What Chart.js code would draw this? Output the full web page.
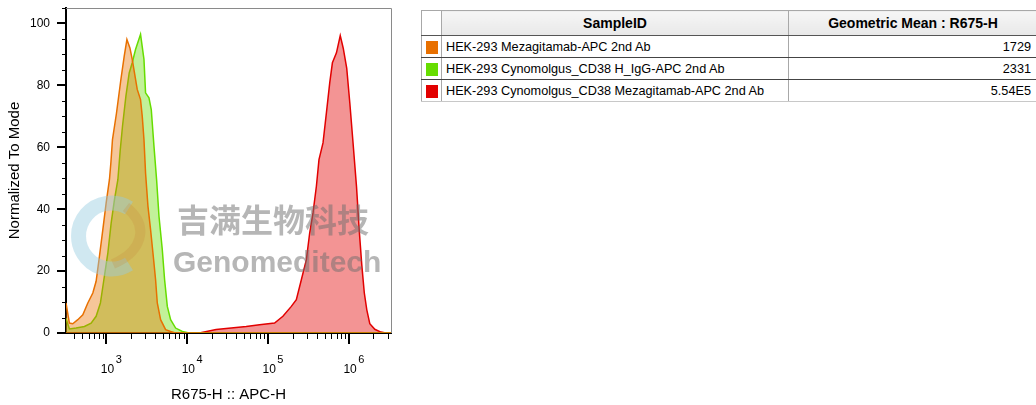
<!DOCTYPE html>
<html><head><meta charset="utf-8">
<script src="https://cdn.jsdelivr.net/npm/chart.js@4.4.0/dist/chart.umd.min.js"></script>
<style>
html,body{margin:0;padding:0;background:#fff;width:1036px;height:405px;overflow:hidden;font-family:"Liberation Sans",Arial,sans-serif;}
#wrap{position:relative;width:1036px;height:405px;}
#chartBox{position:absolute;left:0;top:0;width:400px;height:405px;}
#legend{position:absolute;left:421px;top:10px;border-collapse:collapse;width:616px;table-layout:fixed;font-size:12.7px;color:#000;}
#legend th,#legend td{padding:0;border:1px solid #a8a8a8;white-space:nowrap;overflow:hidden;}
#legend thead th{height:24px;font-weight:bold;font-size:14px;text-align:center;background:linear-gradient(#f6f6f6,#e8e8e8);border-bottom:1px solid #555;}
#legend thead th.sw{background:#fff;}
#legend tbody td{height:21px;border-bottom:1px solid #444;}
#legend tbody tr:last-child td{border-bottom:1px solid #c8c8c8;}
#legend td.name{padding-left:4px;text-align:left;}
#legend td.val{padding-right:6px;text-align:right;}
#legend td.sw{text-align:center;}
.swatch{display:inline-block;width:12px;height:13px;vertical-align:middle;}
#wm{position:absolute;left:0;top:0;width:1036px;height:405px;pointer-events:none;}
.wmt{position:absolute;color:rgba(110,110,110,0.5);font-weight:bold;white-space:nowrap;line-height:1;}
</style></head>
<body><div id="wrap">
<div id="chartBox"><canvas id="c" width="400" height="405"></canvas></div>
<table id="legend">
<colgroup><col style="width:20px"><col style="width:347px"><col style="width:249px"></colgroup>
<thead><tr><th class="sw"></th><th id="h1"></th><th id="h2"></th></tr></thead>
<tbody id="tb"></tbody>
</table>
<div id="wm">
<svg width="1036" height="405" style="position:absolute;left:0;top:0">
<path d="M129 208 A33 33 0 1 0 129 264" fill="none" stroke="rgba(150,205,225,0.45)" stroke-width="15"/>
<path d="M113 264 C141 252 151 227 126 207" fill="none" stroke="rgba(200,140,60,0.25)" stroke-width="10"/>
</svg>
<div class="wmt" style="left:177px;top:202px;font-size:32px;font-family:'Noto Sans CJK SC',sans-serif;">吉满生物科技</div>
<div class="wmt" style="left:173px;top:247px;font-size:30px;font-family:'Liberation Sans',Arial,sans-serif;">Genomeditech</div>
</div>
</div>
<script>
// ---- data ----
const sampleIds = [
  "HEK-293 Mezagitamab-APC 2nd Ab",
  "HEK-293 Cynomolgus_CD38 H_IgG-APC 2nd Ab",
  "HEK-293 Cynomolgus_CD38 Mezagitamab-APC 2nd Ab"
];
const geoMeans = ["1729", "2331", "5.54E5"];
const headerLabels = ["SampleID", "Geometric Mean : R675-H"];
const xTitle = "R675-H :: APC-H";
const yTitle = "Normalized To Mode";
const xDecades = [3, 4, 5, 6];
const yLabelStep = 20;

const orangeX = [316, 348, 383, 442, 510, 588, 678, 745, 819, 902, 991, 1089, 1134, 1187, 1330, 1508, 1657, 1790, 1950, 2083, 2402, 2639, 2771, 2909, 3044, 3261, 3511, 3793, 4050, 4252, 4671, 5388, 6215, 7105, 3300000];
const orangeY = [9.7, 3.2, 3.0, 4.3, 5.9, 9.7, 12.9, 16.7, 24.8, 33.4, 42, 49.6, 55, 62.5, 71, 81.9, 89.4, 94.8, 92.1, 88.4, 78.7, 75.4, 70, 62.5, 51.7, 40.9, 33.4, 24.8, 17.2, 9.7, 4.3, 1.1, 0.5, 0, 0];

const greenX = [316, 348, 421, 534, 646, 745, 842, 929, 1041, 1144, 1256, 1385, 1479, 1579, 1740, 1911, 2083, 2288, 2639, 2909, 3044, 3355, 3582, 3869, 4167, 4462, 4903, 5236, 5655, 6215, 7166, 8678, 10505, 3300000];
const greenY = [4.8, 1.3, 1.6, 2.1, 3.2, 5.4, 9.7, 17.2, 25.9, 35.6, 43.1, 49.6, 59, 66.8, 76.5, 84, 87.3, 91.6, 96.5, 88.4, 77.6, 76, 72.2, 60.3, 49.6, 37.7, 26.9, 17.2, 8.6, 4.3, 1.6, 0.5, 0, 0];

const redX = [316, 14090, 22700, 53460, 78160, 119900, 152000, 193200, 222800, 257000, 296500, 325800, 358100, 394400, 424600, 476200, 524500, 576600, 622300, 698200, 778000, 847000, 935900, 1021000, 1120000, 1236000, 1337000, 1436000, 1542000, 1657000, 1804000, 2080000, 2472000, 2851000, 3300000];
const redY = [0, 0, 1.1, 2.1, 2.7, 3.2, 5.4, 8.6, 10.8, 17.2, 23.7, 32.3, 38.8, 47.4, 56, 61.4, 71.1, 80.8, 87.3, 90.5, 96.1, 92, 85.5, 74.4, 61.4, 47.3, 33, 22, 13, 7.5, 3, 1.2, 0.3, 0, 0];

const lineColors = ["rgb(232,112,0)", "rgb(102,221,0)", "rgb(226,0,0)"];
const fillColors = ["rgba(232,112,0,0.4)", "rgba(102,221,0,0.4)", "rgba(226,0,0,0.42)"];

// ---- table ----
document.getElementById('h1').textContent = headerLabels[0];
document.getElementById('h2').textContent = headerLabels[1];
const tb = document.getElementById('tb');
sampleIds.forEach((s, i) => {
  const tr = document.createElement('tr');
  tr.innerHTML = '<td class="sw"><span class="swatch" style="background:' + lineColors[i] + '"></span></td>' +
    '<td class="name"></td><td class="val"></td>';
  tr.children[1].textContent = s;
  tr.children[2].textContent = geoMeans[i];
  tb.appendChild(tr);
});

// ---- chart ----
const FONT = '"Liberation Sans", Arial, sans-serif';
const zip = (xs, ys) => xs.map((x, i) => ({x: x, y: ys[i]}));
const series = [[orangeX, orangeY], [greenX, greenY], [redX, redY]];
const datasets = series.map((s, i) => ({
  label: sampleIds[i],
  data: zip(s[0], s[1]),
  borderColor: lineColors[i],
  backgroundColor: fillColors[i],
  borderWidth: 1.5,
  fill: 'origin',
  tension: 0,
  pointRadius: 0
}));

const decor = {
  id: 'decor',
  afterDraw(chart) {
    const ctx = chart.ctx, xs = chart.scales.x, ys = chart.scales.y, a = chart.chartArea;
    ctx.save();
    // top/right frame
    ctx.strokeStyle = '#8a8a8a'; ctx.lineWidth = 1;
    ctx.beginPath();
    ctx.moveTo(a.left, a.top + 0.5); ctx.lineTo(a.right + 0.5, a.top + 0.5); ctx.lineTo(a.right + 0.5, a.bottom);
    ctx.stroke();
    ctx.strokeStyle = '#000';
    // y ticks
    for (let v = 0; v <= ys.max; v += 5) {
      const py = Math.round(ys.getPixelForValue(v));
      const major = v % yLabelStep === 0;
      ctx.lineWidth = major ? 2 : 1;
      ctx.beginPath();
      ctx.moveTo(a.left - (major ? 9 : 4), py + (major ? 0 : 0.5));
      ctx.lineTo(a.left, py + (major ? 0 : 0.5));
      ctx.stroke();
    }
    // x ticks
    for (let d = 2; d <= 6; d++) {
      for (let m = 1; m <= 9; m++) {
        const v = m * Math.pow(10, d);
        if (v < xs.min || v > xs.max) continue;
        const px = Math.round(xs.getPixelForValue(v));
        const major = m === 1;
        ctx.lineWidth = major ? 2 : 1;
        ctx.beginPath();
        ctx.moveTo(px + (major ? 0 : 0.5), a.bottom);
        ctx.lineTo(px + (major ? 0 : 0.5), a.bottom + (major ? 11 : 6));
        ctx.stroke();
      }
    }
    // x labels 10^n
    ctx.fillStyle = '#000';
    xDecades.forEach(d => {
      const px = xs.getPixelForValue(Math.pow(10, d)) + 1;
      ctx.font = '12px ' + FONT;
      ctx.textAlign = 'center'; ctx.textBaseline = 'alphabetic';
      ctx.fillText('10', px, a.bottom + 40);
      const w = ctx.measureText('10').width;
      ctx.font = '11px ' + FONT;
      ctx.textAlign = 'left';
      ctx.fillText(String(d), px + w / 2 + 1.5, a.bottom + 30);
    });
    ctx.restore();
  }
};

new Chart(document.getElementById('c'), {
  type: 'line',
  data: {datasets: datasets},
  options: {
    responsive: false,
    animation: false,
    devicePixelRatio: 1,
    layout: {padding: {top: 8, right: 9, left: 0, bottom: 0}},
    plugins: {legend: {display: false}, tooltip: {enabled: false}},
    scales: {
      x: {
        type: 'logarithmic', min: 316, max: 3300000,
        grid: {display: false, drawTicks: false},
        ticks: {display: false},
        border: {display: true, color: '#000', width: 2},
        title: {display: true, text: xTitle, color: '#000', font: {family: FONT, size: 15}, padding: {top: 0, bottom: 1}},
        afterFit(s) { s.height = 72; s.paddingLeft = 0; s.paddingRight = 0; }
      },
      y: {
        type: 'linear', min: 0, max: 105,
        grid: {display: false, drawTicks: true, tickLength: 16, tickColor: 'rgba(0,0,0,0)'},
        ticks: {stepSize: yLabelStep, includeBounds: false, padding: 0, color: '#000', font: {family: FONT, size: 12}},
        border: {display: true, color: '#000', width: 2},
        title: {display: true, text: yTitle, color: '#000', font: {family: FONT, size: 15}, padding: {top: 6, bottom: 0}},
        afterFit(s) { s.width = 66; s.paddingTop = 0; s.paddingBottom = 0; }
      }
    }
  },
  plugins: [decor]
});
</script>
</body></html>
